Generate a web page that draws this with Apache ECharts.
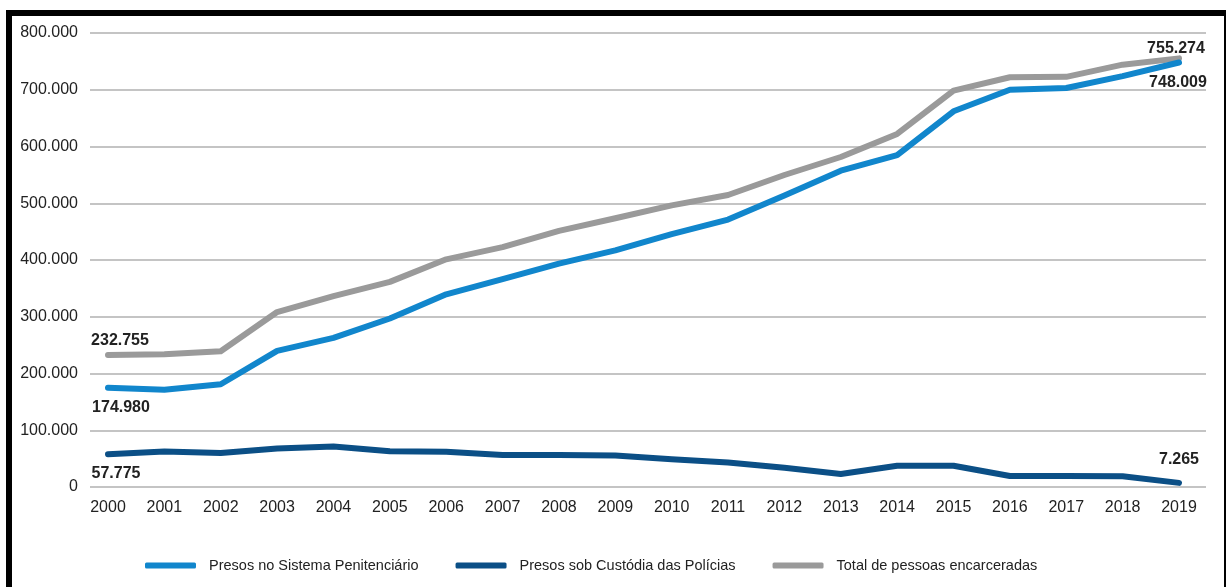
<!DOCTYPE html>
<html>
<head>
<meta charset="utf-8">
<script src="https://cdn.jsdelivr.net/npm/echarts@6/dist/echarts.min.js"></script>
<style>
html,body{margin:0;padding:0;background:#fff;}
#chart{position:absolute;left:0;top:0;width:1226px;height:587px;}
#frame{position:absolute;left:6px;top:10px;width:1212px;height:600px;border-left:6px solid #000;border-top:6px solid #000;border-right:4px solid #000;box-sizing:content-box;pointer-events:none;}
</style>
</head>
<body>
<div id="chart"></div>
<div id="frame"></div>
<script>
const years = ['2000','2001','2002','2003','2004','2005','2006','2007','2008','2009','2010','2011','2012','2013','2014','2015','2016','2017','2018','2019'];
const sistemaPenitenciario = [174980,171500,181000,240000,262700,296900,339600,366400,393500,417100,445700,471300,513700,557300,584800,662000,700000,703000,724000,748009];
const custodiaPolicias = [57775,62500,60000,68000,71500,63000,62000,56500,56500,55500,49000,43000,34000,23000,37500,37500,19500,19500,19000,7265];
const totalEncarceradas = [232755,233900,239300,308300,336400,361400,401200,422600,451400,473600,496300,514600,549800,581500,622200,698600,722100,722700,744200,755274];
const yTicks = [0,100000,200000,300000,400000,500000,600000,700000,800000];
const seriesNames = ['Presos no Sistema Penitenciário','Presos sob Custódia das Polícias','Total de pessoas encarceradas'];
const colors = ['#1186cc','#0b4f86','#9a9a9a'];

function fmt(v){ return String(v).replace(/\B(?=(\d{3})+(?!\d))/g,'.'); }

const labelBase = {show:true, fontFamily:'Liberation Sans, Arial, sans-serif', fontWeight:'bold', fontSize:16, color:'#222', formatter: p => fmt(p.value)};
function withLabels(arr, first, last){
  return arr.map((v,i)=>{
    if(i===0 && first) return {value:v, label:Object.assign({}, labelBase, first)};
    if(i===arr.length-1 && last) return {value:v, label:Object.assign({}, labelBase, last)};
    return v;
  });
}

const chart = echarts.init(document.getElementById('chart'), null, {renderer:'canvas'});
const lineStyleBase = {width:6, cap:'round', join:'round'};
function lineSeries(idx, data, z){
  return {name:seriesNames[idx], type:'line', xAxisIndex:1, yAxisIndex:1,
    symbol:'circle', symbolSize:0.1, showSymbol:true,
    itemStyle:{color:colors[idx]},
    lineStyle:Object.assign({color:colors[idx]}, lineStyleBase), z:z,
    label:{show:false}, emphasis:{disabled:true}, data:data};
}
chart.setOption({
  animation:false,
  color: colors,
  grid:[
    {left:90, right:20, top:33, bottom:100, containLabel:false},
    {left:108, right:47, top:33, bottom:100, containLabel:false}
  ],
  xAxis:[
    {gridIndex:0, type:'category', data:years, show:false},
    {gridIndex:1, type:'category', data:years, boundaryGap:false,
     axisLine:{show:false}, axisTick:{show:false},
     axisLabel:{color:'#222', fontFamily:'Liberation Sans, Arial, sans-serif', fontSize:16, margin:13, interval:0}}
  ],
  yAxis:[
    {gridIndex:0, type:'value', min:0, max:800000, interval:100000,
     axisLine:{show:false}, axisTick:{show:false},
     splitLine:{lineStyle:{color:'#c4c4c4', width:2}},
     axisLabel:{color:'#222', fontFamily:'Liberation Sans, Arial, sans-serif', fontSize:16, margin:12, formatter: v => fmt(v)}},
    {gridIndex:1, type:'value', min:0, max:800000, interval:100000, show:false}
  ],
  legend:{
    left:145, top:558, padding:0, itemWidth:51, itemHeight:6, itemGap:37,
    icon:'roundRect',
    textStyle:{color:'#222', fontFamily:'Liberation Sans, Arial, sans-serif', fontSize:14.5, padding:[0,0,0,8]},
    data: seriesNames
  },
  series:[
    lineSeries(0, withLabels(sistemaPenitenciario, {position:'bottom', distance:12, offset:[13,0]}, {position:'bottom', distance:12, offset:[-1,0]}), 3),
    lineSeries(1, withLabels(custodiaPolicias, {position:'bottom', distance:11, offset:[8,0]}, {position:'top', distance:15, offset:[0,0]}), 3),
    lineSeries(2, withLabels(totalEncarceradas, {position:'top', distance:6, offset:[12,0]}, {position:'top', distance:2, offset:[-3,0]}), 2)
  ]
});
</script>
</body>
</html>
